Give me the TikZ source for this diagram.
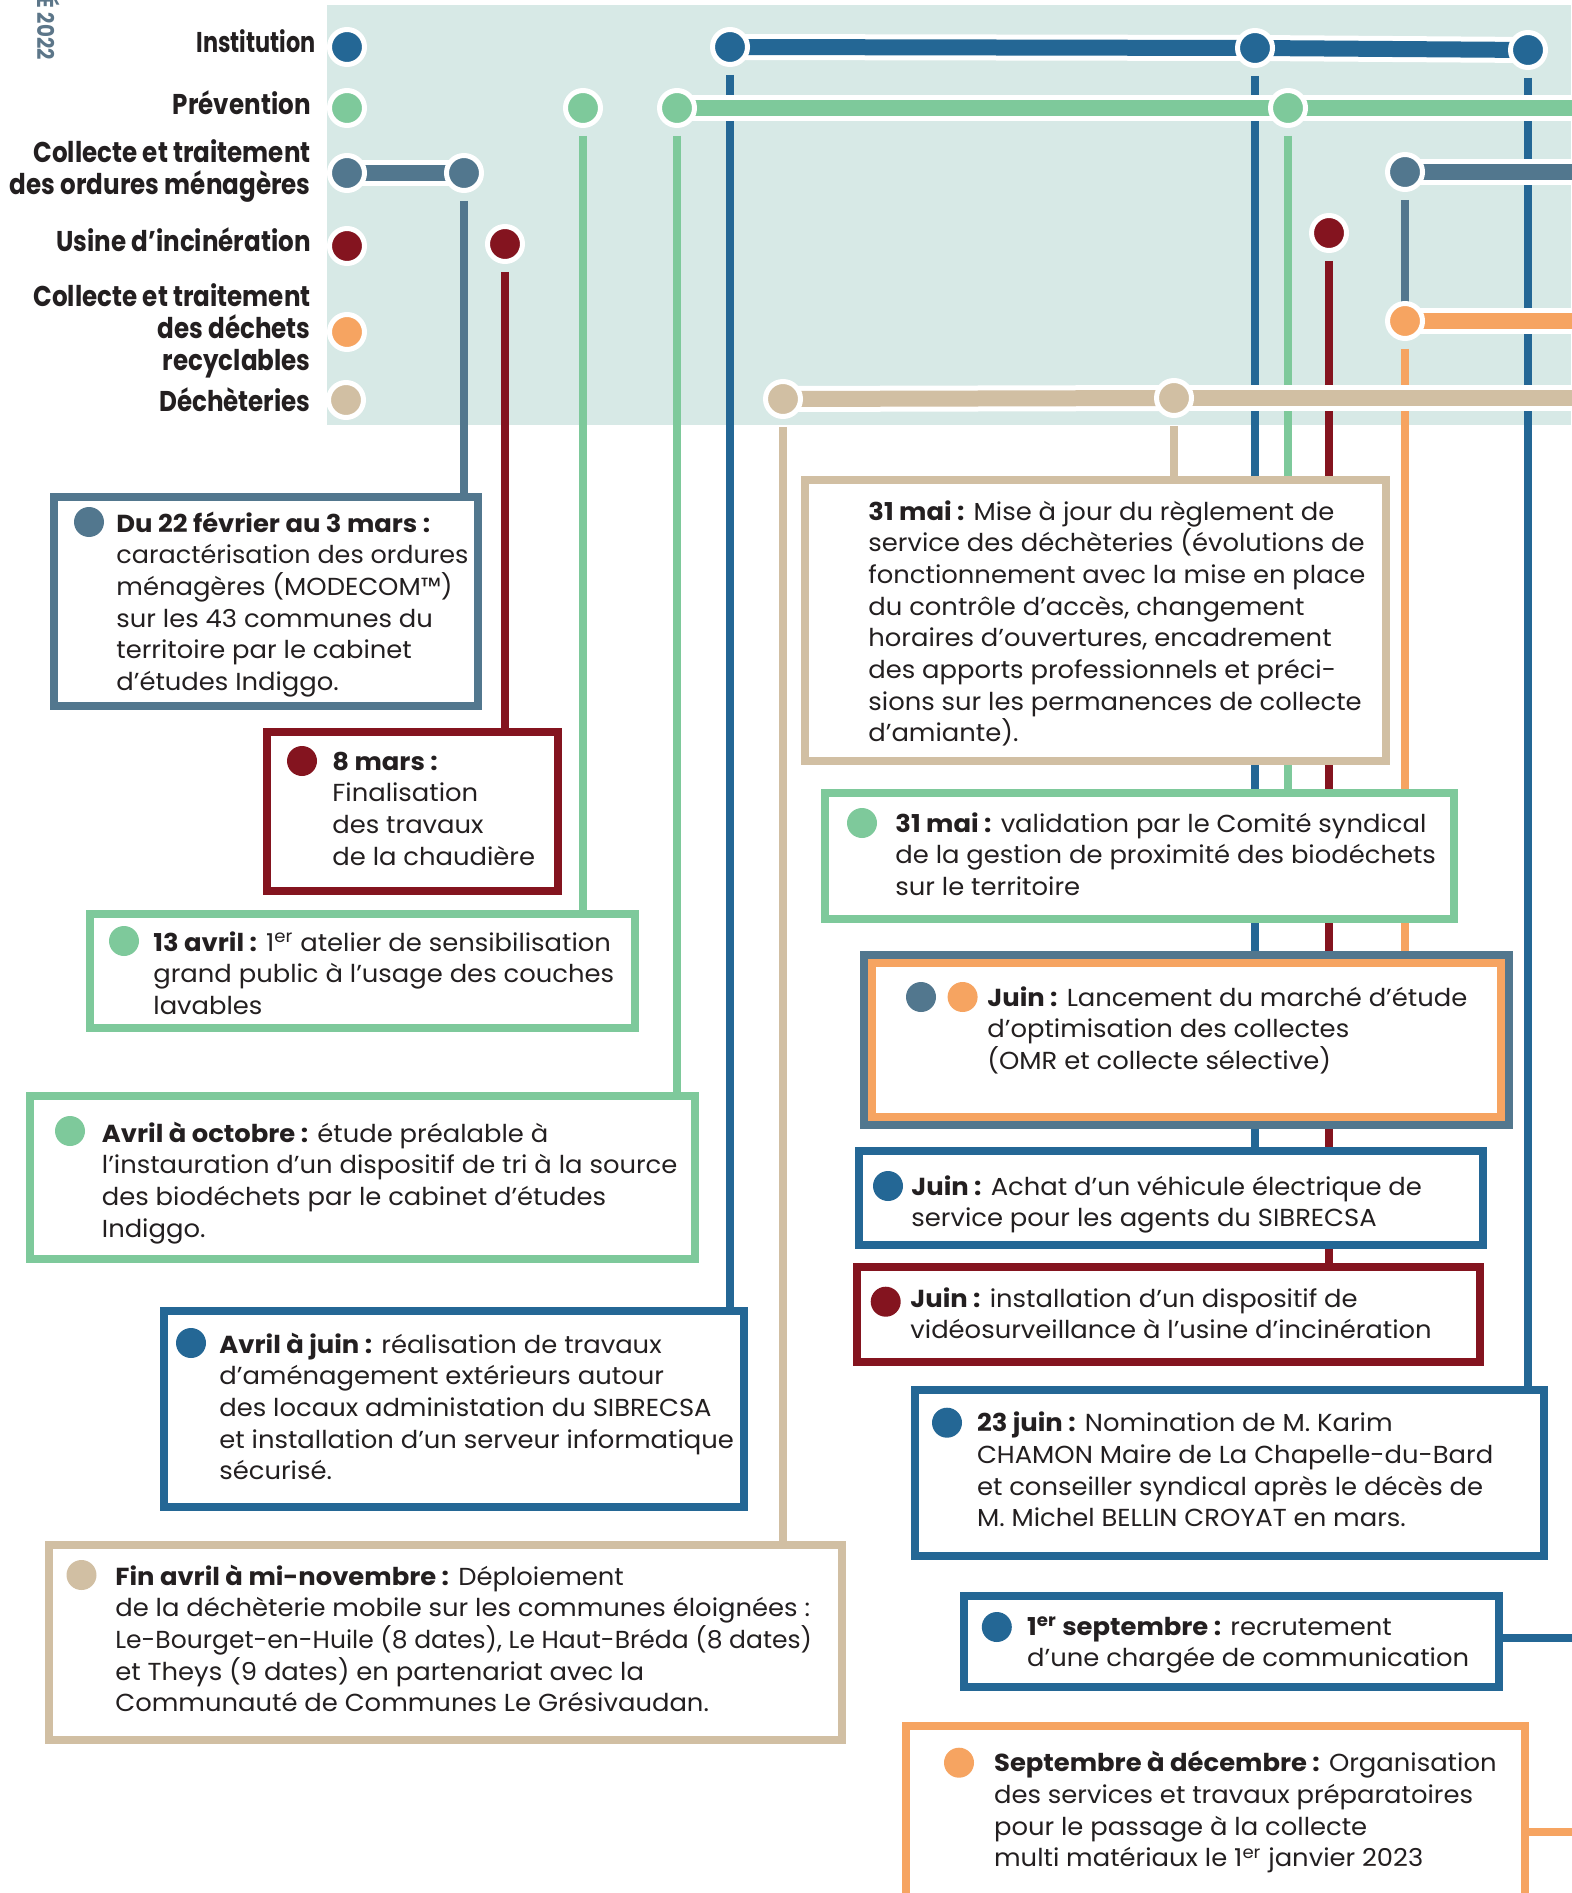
\documentclass[tikz,border=0pt]{standalone}
\usepackage{fontspec}
\setmainfont{Poppins}[FakeStretch=1.05]
\newfontfamily\labfam[FakeStretch=0.86]{Poppins}
\usetikzlibrary{fit}
\pgfdeclarelayer{bg}
\pgfdeclarelayer{mid}
\pgfsetlayers{bg,mid,main}
\definecolor{cBg}{HTML}{D7E9E6}
\definecolor{cBlue}{HTML}{246795}
\definecolor{cGreen}{HTML}{7EC99B}
\definecolor{cSlate}{HTML}{52778E}
\definecolor{cRed}{HTML}{84141F}
\definecolor{cOrange}{HTML}{F6A461}
\definecolor{cTan}{HTML}{D1BFA3}
\definecolor{cText}{HTML}{231F20}
\definecolor{cSide}{HTML}{5C7689}
\newcommand\bodyfnt{\fontsize{12.3pt}{15.85pt}\selectfont}
\newcommand\labfnt{\labfam\fontsize{14.3pt}{15.8pt}\selectfont\bfseries}
\newcommand\tb[1]{\parbox[t]{380pt}{#1}}
\newcommand\lb[1]{\parbox[t]{200pt}{\raggedleft #1}}
\newcommand\er{\textsuperscript{er}}
\begin{document}
\begin{tikzpicture}[x=0.5pt,y=-0.5pt,
  vline/.style={line width=4pt},
  bar/.style={line width=8pt},
  barw/.style={line width=13pt, white},
  ldot/.style={circle, fill=#1, draw=white, line width=2.5pt, minimum size=17.5pt, inner sep=0pt},
  bdot/.style={circle, fill=#1, minimum size=15pt, inner sep=0pt},
  box/.style={rectangle, draw=#1, line width=4pt, fill=white, inner sep=0pt},
  txt/.style={anchor=base west, inner sep=0pt, text=cText, font=\bodyfnt},
  lab/.style={anchor=base east, inner sep=0pt, text=cText, font=\labfnt}]
\useasboundingbox (0,0) rectangle (1571,1893);

% ---- timeline dots
\node[ldot=cBlue]   (lI) at (347,47) {};
\node[ldot=cGreen]  (lP) at (347,108) {};
\node[ldot=cSlate]  (lC) at (347,173) {};
\node[ldot=cRed]    (lU) at (347,246) {};
\node[ldot=cOrange] (lR) at (347,332) {};
\node[ldot=cTan]    (lD) at (346,400) {};
\node[ldot=cSlate]  (c1) at (464,173) {};
\node[ldot=cRed]    (u1) at (505,244) {};
\node[ldot=cGreen]  (p1) at (583,108) {};
\node[ldot=cGreen]  (p2) at (677,108) {};
\node[ldot=cBlue]   (i1) at (730,47) {};
\node[ldot=cTan]    (d1) at (783,399) {};
\node[ldot=cTan]    (d2) at (1174,398) {};
\node[ldot=cBlue]   (i2) at (1255,48) {};
\node[ldot=cGreen]  (p3) at (1288,108) {};
\node[ldot=cRed]    (u2) at (1329,233) {};
\node[ldot=cSlate]  (c2) at (1405,172) {};
\node[ldot=cOrange] (r1) at (1405,321) {};
\node[ldot=cBlue]   (i3) at (1528,50) {};
\coordinate (edgeR) at (1600,0);

% ---- boxes
\node[box=cSlate,  fit={(53.5,497) (478,706)}] (b1) {};
\node[box=cRed,    fit={(267,732) (558,891)}] (b2) {};
\node[box=cGreen,  fit={(90,914) (635,1028)}] (b3) {};
\node[box=cGreen,  fit={(30,1096) (695,1259)}] (b4) {};
\node[box=cBlue,   fit={(164,1311) (744,1507)}] (b5) {};
\node[box=cTan,    fit={(49,1545) (842,1740)}] (b6) {};
\node[box=cTan,    fit={(805,480) (1385.5,760.5)}] (b7) {};
\node[box=cGreen,  fit={(825,793.4) (1453.6,919)}] (b8) {};
\node[box=cSlate,  fit={(863.6,955) (1508.7,1125)}] (b9) {};
\node[box=cOrange, fit={(871.6,963) (1500.7,1117)}] (b9in) {};
\node[box=cBlue,   fit={(859.4,1151) (1482.6,1245)}] (b10) {};
\node[box=cRed,    fit={(856.6,1267) (1480,1361.7)}] (b11) {};
\node[box=cBlue,   fit={(915,1390) (1544,1556)}] (b12) {};
\node[box=cBlue,   fit={(964,1596) (1498.7,1687)}] (b13) {};
\node[box=cOrange, fit={(906,1726) (1525,1938)}] (b14) {};

% ---- background, verticals
\begin{pgfonlayer}{bg}
\fill[cBg] (326.5,5) rectangle (1571,425);
\draw[vline,cSlate]  ([yshift=-14pt]c1.center) -- (c1 |- b1.north);
\draw[vline,cRed]    ([yshift=-14pt]u1.center) -- (u1 |- b2.north);
\draw[vline,cGreen]  ([yshift=-14pt]p1.center) -- (p1 |- b3.north);
\draw[vline,cGreen]  ([yshift=-14pt]p2.center) -- (p2 |- b4.north);
\draw[vline,cBlue]   ([yshift=-14pt]i1.center) -- (i1 |- b5.north);
\draw[vline,cTan]    ([yshift=-14pt]d1.center) -- (d1 |- b6.north);
\draw[vline,cTan]    ([yshift=-14pt]d2.center) -- (d2 |- b7.north);
\draw[vline,cGreen]  ([yshift=-14pt]p3.center) -- (p3 |- b8.north);
\draw[vline,cBlue]   ([yshift=-14pt]i2.center) -- (i2 |- b10.north);
\draw[vline,cRed]    ([yshift=-14pt]u2.center) -- (u2 |- b11.north);
\draw[vline,cBlue]   ([yshift=-14pt]i3.center) -- (i3 |- b12.north);
\draw[vline,cSlate]  ([yshift=-14pt]c2.center) -- (r1.center);
\draw[vline,cOrange] ([yshift=-14pt]r1.center) -- (r1 |- b9.north);
\draw[vline,cBlue]   ([yshift=2pt]b13.east) -- ([yshift=2pt]b13.east -| edgeR);
\draw[vline,cOrange] (b14.east) -- (b14.east -| edgeR);
\end{pgfonlayer}

% ---- horizontal bars
\begin{pgfonlayer}{mid}
\draw[barw] (lC.center) -- (c1.center);   \draw[bar,cSlate] (lC.center) -- (c1.center);
\draw[barw] (i1.center) -- (i2.center);   \draw[bar,cBlue] (i1.center) -- (i2.center);
\draw[barw] (i2.center) -- (i3.center);   \draw[bar,cBlue] (i2.center) -- (i3.center);
\draw[barw] (p2.center) -- (p3.center);   \draw[bar,cGreen] (p2.center) -- (p3.center);
\draw[barw] (p3.center) -- (p3 -| edgeR); \draw[bar,cGreen] (p3.center) -- (p3 -| edgeR);
\draw[barw] (c2.center) -- (c2 -| edgeR); \draw[bar,cSlate] (c2.center) -- (c2 -| edgeR);
\draw[barw] (r1.center) -- (r1 -| edgeR); \draw[bar,cOrange] (r1.center) -- (r1 -| edgeR);
\draw[barw] (d1.center) -- (d2.center);   \draw[bar,cTan] (d1.center) -- (d2.center);
\draw[barw] (d2.center) -- (d2 -| edgeR); \draw[bar,cTan] (d2.center) -- (d2 -| edgeR);
\end{pgfonlayer}

% ---- side title and labels
\node[rotate=-90, anchor=base east, inner sep=0pt, text=cSide, font=\labfam\fontsize{11.5pt}{12pt}\selectfont\bfseries] (side) at (37,60) {É 2022};
\node[lab] (nI) at (316,53) {\scalebox{0.91}[1]{Institution}};
\node[lab] (nP) at (311,115) {Prévention};
\node[lab] (nC) at (311,163) {\lb{Collecte et traitement\\des ordures ménagères}};
\node[lab] (nU) at (311,252) {Usine d’incinération};
\node[lab] (nR) at (311,307) {\lb{Collecte et traitement\\des déchets\\recyclables}};
\node[lab] (nD) at (311,412) {Déchèteries};

% ---- box contents
\node[bdot=cSlate] (k1) at (89,522) {};
\node[txt] (t1) at (116,532) {\tb{\textbf{Du 22 février au 3 mars :}\\\scalebox{0.986}[1]{caractérisation des ordures}\\ménagères (MODECOM™)\\sur les 43 communes du\\territoire par le cabinet\\d’études Indiggo.}};

\node[bdot=cRed] (k2) at (302,761) {};
\node[txt] (t2) at (332,770) {\tb{\textbf{8 mars :}\\Finalisation\\des travaux\\de la chaudière}};

\node[bdot=cGreen] (k3) at (124,941) {};
\node[txt] (t3) at (153,951) {\tb{\textbf{13 avril :} 1\er{} atelier de sensibilisation\\grand public à l’usage des couches\\lavables}};

\node[bdot=cGreen] (k4) at (70,1131) {};
\node[txt] (t4) at (101.5,1142) {\tb{\textbf{Avril à octobre :} étude préalable à\\l’instauration d’un dispositif de tri à la source\\des biodéchets par le cabinet d’études\\Indiggo.}};

\node[bdot=cBlue] (k5) at (191,1343) {};
\node[txt] (t5) at (219,1353) {\tb{\textbf{Avril à juin :} réalisation de travaux\\d’aménagement extérieurs autour\\des locaux administation du SIBRECSA\\et installation d’un serveur informatique\\sécurisé.}};

\node[bdot=cTan] (k6) at (81.5,1575) {};
\node[txt] (t6) at (115,1585) {\tb{\textbf{Fin avril à mi-novembre :} Déploiement\\de la déchèterie mobile sur les communes éloignées :\\\scalebox{0.968}[1]{Le-Bourget-en-Huile (8 dates), Le Haut-Bréda (8 dates)}\\et Theys (9 dates) en partenariat avec la\\Communauté de Communes Le Grésivaudan.}};

\node[txt] (t7) at (868,520) {\tb{\textbf{31 mai :} Mise à jour du règlement de\\service des déchèteries (évolutions de\\fonctionnement avec la mise en place\\du contrôle d’accès, changement\\horaires d’ouvertures, encadrement\\des apports professionnels et préci-\\sions sur les permanences de collecte\\d’amiante).}};

\node[bdot=cGreen] (k8) at (862,823) {};
\node[txt] (t8) at (895,832) {\tb{\textbf{31 mai :} validation par le Comité syndical\\de la gestion de proximité des biodéchets\\sur le territoire}};

\node[bdot=cSlate] (k9a) at (921,997) {};
\node[bdot=cOrange] (k9b) at (962.6,997) {};
\node[txt] (t9) at (987,1006) {\tb{\textbf{Juin :} Lancement du marché d’étude\\d’optimisation des collectes\\(OMR et collecte sélective)}};

\node[bdot=cBlue] (k10) at (888,1186) {};
\node[txt] (t10) at (911,1195) {\tb{\textbf{Juin :} Achat d’un véhicule électrique de\\service pour les agents du SIBRECSA}};

\node[bdot=cRed] (k11) at (885.7,1301.7) {};
\node[txt] (t11) at (910,1307) {\tb{\textbf{Juin :} installation d’un dispositif de\\vidéosurveillance à l’usine d’incinération}};

\node[bdot=cBlue] (k12) at (947,1422.7) {};
\node[txt] (t12) at (976.6,1431.7) {\tb{\textbf{23 juin :} Nomination de M. Karim\\CHAMON Maire de La Chapelle-du-Bard\\et conseiller syndical après le décès de\\M. Michel BELLIN CROYAT en mars.}};

\node[bdot=cBlue] (k13) at (996.8,1627) {};
\node[txt] (t13) at (1026.8,1635) {\tb{\textbf{1\er{} septembre :} recrutement\\d’une chargée de communication}};

\node[bdot=cOrange] (k14) at (959,1762.7) {};
\node[txt] (t14) at (993.7,1771.7) {\tb{\textbf{Septembre à décembre :} Organisation\\des services et travaux préparatoires\\pour le passage à la collecte\\multi matériaux le 1\er{} janvier 2023}};
\end{tikzpicture}
\end{document}
